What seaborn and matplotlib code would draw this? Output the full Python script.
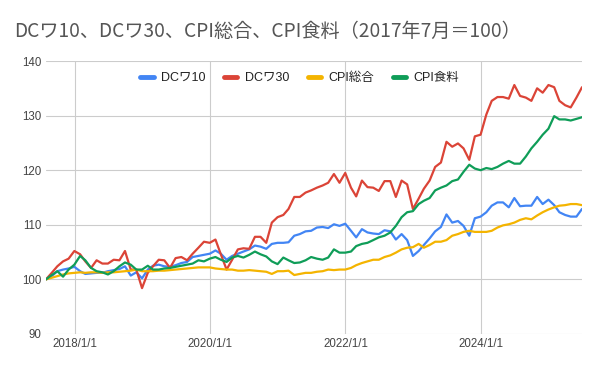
import pandas as pd
import matplotlib.pyplot as plt
import seaborn as sns

# monthly index values, 2017/7 = 100 (month-end dates)
dates = pd.date_range('2017-07-31', periods=96, freq='ME')

dc10 = [100.0, 100.6, 101.5, 101.8, 102.0, 102.3, 101.5, 101.0, 101.1, 101.2, 101.2, 101.5,
        101.7, 101.9, 102.4, 100.7, 101.3, 100.2, 101.8, 102.5, 102.7, 102.4, 102.3, 102.6,
        103.0, 103.2, 104.1, 104.3, 104.5, 104.7, 105.3, 104.7, 103.6, 104.3, 104.7, 105.1,
        105.5, 106.2, 106.0, 105.6, 106.5, 106.7, 106.7, 106.8, 108.0, 108.3, 108.8, 108.9,
        109.5, 109.6, 109.4, 110.1, 109.8, 110.2, 108.9, 107.7, 109.2, 108.6, 108.4, 108.3,
        109.0, 108.8, 107.3, 108.3, 107.2, 104.3, 105.2, 106.3, 107.5, 108.8, 109.6, 111.9,
        110.4, 110.7, 109.8, 108.0, 111.2, 111.5, 112.3, 113.5, 114.1, 114.1, 113.2, 114.9,
        113.4, 113.5, 113.5, 115.1, 113.8, 114.6, 113.6, 112.3, 111.8, 111.5, 111.5, 112.9]

dc30 = [100.0, 101.2, 102.4, 103.3, 103.8, 105.2, 104.6, 103.3, 102.1, 103.5, 102.9, 102.9,
        103.6, 103.5, 105.2, 101.8, 101.8, 98.4, 101.2, 102.4, 103.6, 103.5, 102.1, 103.9,
        104.1, 103.5, 104.7, 105.8, 106.9, 106.7, 107.3, 104.6, 101.8, 103.6, 105.5, 105.7,
        105.6, 107.8, 107.8, 106.7, 110.4, 111.4, 111.8, 112.9, 115.1, 115.1, 115.9, 116.3,
        116.8, 117.2, 117.7, 119.3, 117.7, 119.5, 116.8, 115.2, 118.1, 116.9, 116.8, 116.2,
        118.0, 118.0, 115.1, 118.1, 117.4, 112.9, 114.8, 116.6, 118.1, 120.6, 121.4, 125.2,
        124.3, 124.9, 124.0, 121.9, 126.2, 126.5, 130.2, 132.7, 133.4, 133.4, 133.1, 135.6,
        133.6, 133.3, 132.7, 135.0, 134.2, 135.6, 135.2, 132.7, 131.9, 131.5, 133.3, 135.2]

cpi_all = [100.0, 100.3, 100.6, 100.9, 101.1, 101.2, 101.3, 101.2, 101.3, 101.3, 101.2, 101.3,
           101.3, 101.4, 101.5, 101.6, 101.8, 101.5, 101.5, 101.5, 101.6, 101.6, 101.7, 101.8,
           101.9, 102.0, 102.1, 102.2, 102.2, 102.2, 102.0, 101.9, 101.8, 101.8, 101.6, 101.6,
           101.7, 101.6, 101.5, 101.4, 101.0, 101.5, 101.5, 101.6, 100.8, 101.0, 101.2, 101.2,
           101.4, 101.5, 101.8, 101.7, 101.8, 101.8, 102.1, 102.6, 103.0, 103.3, 103.6, 103.6,
           104.1, 104.4, 104.9, 105.5, 105.8, 105.9, 106.5, 105.8, 106.3, 106.9, 106.9, 107.2,
           108.0, 108.3, 108.7, 108.9, 108.7, 108.7, 108.7, 108.9, 109.5, 109.9, 110.1, 110.4,
           110.9, 111.2, 111.0, 111.7, 112.3, 112.8, 113.2, 113.5, 113.6, 113.8, 113.8, 113.6]

cpi_food = [100.0, 100.8, 101.5, 100.5, 101.8, 102.7, 104.3, 103.5, 102.1, 101.5, 101.3, 100.9,
            101.5, 102.4, 103.1, 102.7, 101.8, 101.8, 102.5, 101.8, 101.8, 102.0, 102.1, 102.3,
            102.5, 102.7, 102.9, 103.5, 103.3, 103.8, 104.1, 103.6, 103.2, 104.0, 104.3, 104.0,
            104.5, 105.1, 104.6, 104.2, 103.3, 102.8, 104.0, 103.5, 103.0, 103.1, 103.5, 104.1,
            103.8, 103.6, 104.0, 105.5, 104.9, 104.9, 105.1, 106.1, 106.5, 106.7, 107.2, 107.7,
            108.0, 108.6, 109.8, 111.4, 112.3, 112.5, 113.8, 114.4, 114.9, 116.3, 116.8, 117.2,
            118.0, 118.3, 119.7, 121.0, 120.3, 120.0, 120.4, 120.2, 120.6, 121.2, 121.7, 121.2,
            121.2, 122.5, 124.0, 125.2, 126.5, 127.6, 129.9, 129.3, 129.3, 129.1, 129.4, 129.7]

series = ['DCワ10', 'DCワ30', 'CPI総合', 'CPI食料']
colors = ['#4285F4', '#DB4437', '#F4B400', '#0F9D58']

df = pd.DataFrame({'date': dates, 'DCワ10': dc10, 'DCワ30': dc30,
                   'CPI総合': cpi_all, 'CPI食料': cpi_food})
long = df.melt(id_vars='date', var_name='series', value_name='value')

sns.set_theme(style='whitegrid')
plt.rcParams['font.family'] = ['Liberation Sans', 'Noto Sans CJK JP', 'DejaVu Sans']

fig = plt.figure(figsize=(6, 3.71), dpi=100)
ax = fig.add_axes([46 / 600, 1 - 334 / 371, 536 / 600, 273 / 371])

sns.lineplot(data=long, x='date', y='value', hue='series', hue_order=series,
             palette=colors, linewidth=1.6, ax=ax)

ax.set_xlim(dates[0], dates[-1])
ax.set_ylim(90, 140)
ax.set_yticks(range(90, 141, 10))
xt = pd.to_datetime(['2018-01-01', '2020-01-01', '2022-01-01', '2024-01-01'])
ax.set_xticks(xt)
ax.set_xticklabels(['2018/1/1', '2020/1/1', '2022/1/1', '2024/1/1'])
ax.set_xlabel('')
ax.set_ylabel('')
ax.grid(color='#cccccc', linewidth=0.8)
for s in ax.spines.values():
    s.set_visible(False)
ax.tick_params(axis='both', labelsize=8.3, colors='#444444', length=0, pad=3)

leg = ax.legend(loc='upper center', bbox_to_anchor=((300 - 46) / 536, 1.0), ncol=4,
                frameon=False, handlelength=1.05, handletextpad=0.6, columnspacing=1.5,
                prop={'family': ['Liberation Sans', 'Noto Sans CJK JP'], 'size': 9})
for h in leg.get_lines():
    h.set_linewidth(3.5)
for t in leg.get_texts():
    t.set_color('#222222')

fig.text(14 / 600, 1 - 31 / 371, 'DCワ10、DCワ30、CPI総合、CPI食料（2017年7月＝100）',
         fontsize=13.8, color='#555555', va='center', ha='left',
         family=['Noto Sans CJK JP', 'DejaVu Sans'])

fig.savefig('out.png', dpi=100)
